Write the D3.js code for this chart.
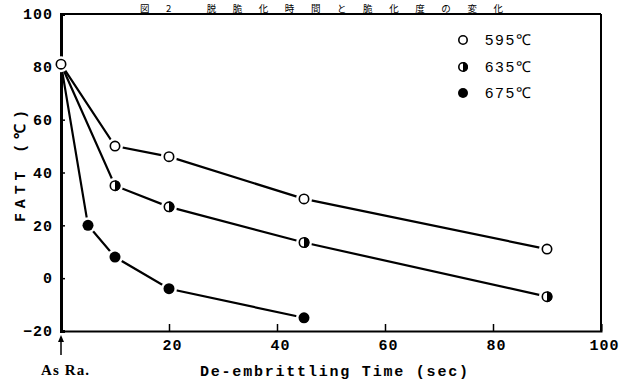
<!DOCTYPE html>
<html><head><meta charset="utf-8">
<script src="https://cdn.jsdelivr.net/npm/d3@7"></script>
<style>html,body{margin:0;padding:0;background:#fff;}svg{display:block;}</style>
</head><body>
<svg id="c" width="626" height="380"></svg>
<script>
const title = "図2 脱脆化時間と脆化度の変化";
const seriesNames = ["595℃", "635℃", "675℃"];
const markerKinds = ["open", "half", "filled"];
const time595 = [0, 10, 20, 45, 90];
const fatt595 = [81, 50, 46, 30, 11];
const time635 = [0, 10, 20, 45, 90];
const fatt635 = [81, 35, 27, 13.5, -7];
const time675 = [0, 5, 10, 20, 45];
const fatt675 = [81, 20, 8, -4, -15];
const xTicks = [20, 40, 60, 80, 100];
const yTicks = [-20, 0, 20, 40, 60, 80, 100];
const xTitle = "De-embrittling Time (sec)";
const yTitle = "FATT (℃)";
const originLabel = "As Ra.";

const series = [
  {name: seriesNames[0], kind: markerKinds[0], pts: time595.map((t,i)=>[t, fatt595[i]])},
  {name: seriesNames[1], kind: markerKinds[1], pts: time635.map((t,i)=>[t, fatt635[i]])},
  {name: seriesNames[2], kind: markerKinds[2], pts: time675.map((t,i)=>[t, fatt675[i]])}
];

const svg = d3.select("#c");
const L = 61, R = 601, T = 14, B = 331;
const x = d3.scaleLinear().domain([0, 100]).range([L, R]);
const y = d3.scaleLinear().domain([-20, 100]).range([B, T]);
const mono = "'Liberation Mono', 'DejaVu Sans Mono', monospace";

// title (small, fits above the frame)
svg.append("text").attr("x", 140).attr("y", 12)
  .attr("font-family", "'Noto Sans CJK JP', sans-serif").attr("font-size", 9.5)
  .attr("textLength", 363).attr("lengthAdjust", "spacing")
  .attr("fill", "#000").text(title);

// frame
svg.append("line").attr("x1", L).attr("x2", R).attr("y1", T).attr("y2", T).attr("stroke", "#000").attr("stroke-width", 2);
svg.append("line").attr("x1", R).attr("x2", R).attr("y1", T).attr("y2", B).attr("stroke", "#000").attr("stroke-width", 2);

// axes
const yAxis = d3.axisLeft(y).tickValues(yTicks).tickSize(-4).tickPadding(8).tickFormat(d3.format("d"));
const gy = svg.append("g").attr("transform", `translate(${L},0)`).call(yAxis);
gy.select(".domain").attr("stroke-width", 3);
gy.selectAll(".tick line").attr("stroke-width", 1.5);
gy.selectAll(".tick text").attr("font-family", mono).attr("font-weight", "bold")
  .attr("font-size", 15).attr("letter-spacing", 1).attr("fill", "#000");

const xAxis = d3.axisBottom(x).tickValues(xTicks).tickSize(-7).tickPadding(4).tickFormat(d3.format("d"));
const gx = svg.append("g").attr("transform", `translate(0,${B})`).call(xAxis);
gx.select(".domain").attr("stroke-width", 2);
gx.selectAll(".tick line").attr("stroke-width", 1.5);
gx.selectAll(".tick text").attr("font-family", mono).attr("font-weight", "bold")
  .attr("font-size", 15).attr("letter-spacing", 1).attr("fill", "#000").attr("dy", "1em").attr("dx", 3);

// axis titles
svg.append("text").attr("x", 200).attr("y", 376).attr("font-family", mono).attr("font-weight", "bold")
  .attr("font-size", 15).attr("textLength", 268).attr("lengthAdjust", "spacing").attr("fill", "#000").text(xTitle);
svg.append("text").attr("transform", "translate(25,222) rotate(-90)").attr("font-family", mono)
  .attr("font-weight", "bold").attr("font-size", 15).attr("textLength", 112).attr("lengthAdjust", "spacing")
  .attr("fill", "#000").text(yTitle);

// As Ra. arrow and label
svg.append("line").attr("x1", x(0)).attr("x2", x(0)).attr("y1", 355).attr("y2", 340).attr("stroke", "#000").attr("stroke-width", 1.5);
svg.append("path").attr("d", `M${x(0)},335 L${x(0)-3},342 L${x(0)+3},342 Z`).attr("fill", "#000");
svg.append("text").attr("x", 41).attr("y", 375).attr("font-family", "'Liberation Serif', serif").attr("font-weight", "bold")
  .attr("font-size", 15).attr("textLength", 48).attr("lengthAdjust", "spacing").attr("fill", "#000").text(originLabel);

// lines
const line = d3.line().x(d => x(d[0])).y(d => y(d[1]));
svg.append("g").selectAll("path").data(series).join("path")
  .attr("d", d => line(d.pts)).attr("fill", "none").attr("stroke", "#000").attr("stroke-width", 2.2);

function marker(g, cx, cy, kind, r) {
  g.append("circle").attr("cx", cx).attr("cy", cy).attr("r", r + 2.5).attr("fill", "#fff");
  if (kind === "filled") {
    g.append("circle").attr("cx", cx).attr("cy", cy).attr("r", r).attr("fill", "#000");
  } else {
    g.append("circle").attr("cx", cx).attr("cy", cy).attr("r", r - 0.8).attr("fill", "#fff").attr("stroke", "#000").attr("stroke-width", 1.6);
    if (kind === "half") {
      g.append("path").attr("d", `M${cx},${cy - r} A${r},${r} 0 0 1 ${cx},${cy + r} Z`).attr("fill", "#000");
    }
  }
}

const mg = svg.append("g");
series.forEach((s, si) => {
  s.pts.forEach((p, i) => {
    if (i === 0 && si > 0) return; // shared origin point drawn once
    marker(mg, x(p[0]), y(p[1]), s.kind, 5.5);
  });
});

// legend
const lg = svg.append("g");
const legY = [40, 67, 93];
series.forEach((s, i) => {
  marker(lg, 463, legY[i], s.kind, 5);
  lg.append("text").attr("x", 485).attr("y", legY[i] + 5).attr("font-family", "'Liberation Sans', sans-serif")
    .attr("font-size", 15).attr("letter-spacing", 2).attr("fill", "#000").text(s.name);
});
</script>
</body></html>
